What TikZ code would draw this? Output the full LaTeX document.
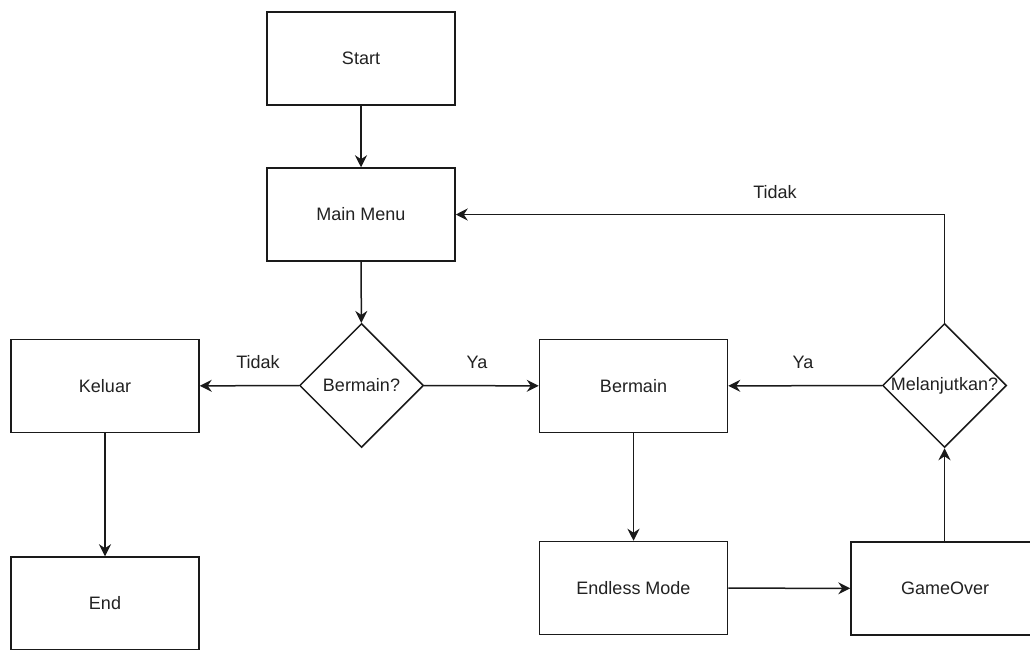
\documentclass[tikz,border=0pt]{standalone}
\usepackage{fontspec}
\setmainfont{Liberation Sans}
\usetikzlibrary{shapes.geometric,arrows.meta}
\definecolor{txt}{HTML}{222222}
\definecolor{ln}{HTML}{1A1A1A}
\tikzset{
  box/.style={draw=ln, line width=1.5pt, minimum width=188pt, minimum height=93pt, inner sep=0pt, text=txt, font=\fontsize{18}{22}\selectfont},
  dec/.style={draw=ln, line width=1.5pt, diamond, aspect=1, minimum width=124pt, minimum height=124pt, inner sep=0pt},
  lbl/.style={text=txt, font=\fontsize{18}{22}\selectfont, inner sep=0pt},
  conn/.style={draw=ln, line width=1.5pt, -{Stealth[length=12pt,width=12pt,inset=4pt]}}
}
\begin{document}
\begin{tikzpicture}[x=1pt,y=-1pt]
\useasboundingbox (0,0) rectangle (1030,650);
\clip (0,0) rectangle (1030,650);
\fill[white] (0,0) rectangle (1030,650);
% nodes
\node[box] (start) at (361,58.5) {Start};
\node[box] (menu) at (361,214.5) {Main Menu};
\node[dec] (q1) at (361.5,385.5) {};
\node[lbl] (q1t) at (q1) {Bermain?};
\node[box] (keluar) at (105,386) {Keluar};
\node[box] (bermain) at (633.5,386) {Bermain};
\node[dec] (q2) at (944.5,385.5) {};
\node[lbl] (q2t) at (q2) {Melanjutkan?};
\node[box] (end) at (105,603.5) {End};
\node[box] (endless) at (633.5,588) {Endless Mode};
\node[box] (over) at (945,588.5) {GameOver};
% connectors
\draw[conn] (start) -- (menu);
\draw[conn] (menu) -- (q1);
\draw[conn] (q1) -- (keluar);
\draw[conn] (q1) -- (bermain);
\draw[conn] (keluar) -- (keluar |- end.north);
\draw[conn] (bermain) -- (endless);
\draw[conn] (endless) -- (over);
\draw[conn] (over.north -| q2) -- (q2);
\draw[conn] (q2) -- (bermain);
\coordinate (corner) at (q2 |- menu);
\draw[conn] (q2.north) -- (corner) -- (menu.east);
% labels
\node[lbl] (l1) at (258,362) {Tidak};
\node[lbl] (l2) at (477,362) {Ya};
\node[lbl] (l3) at (803,362) {Ya};
\node[lbl] (l4) at (775,192) {Tidak};
\end{tikzpicture}
\end{document}
